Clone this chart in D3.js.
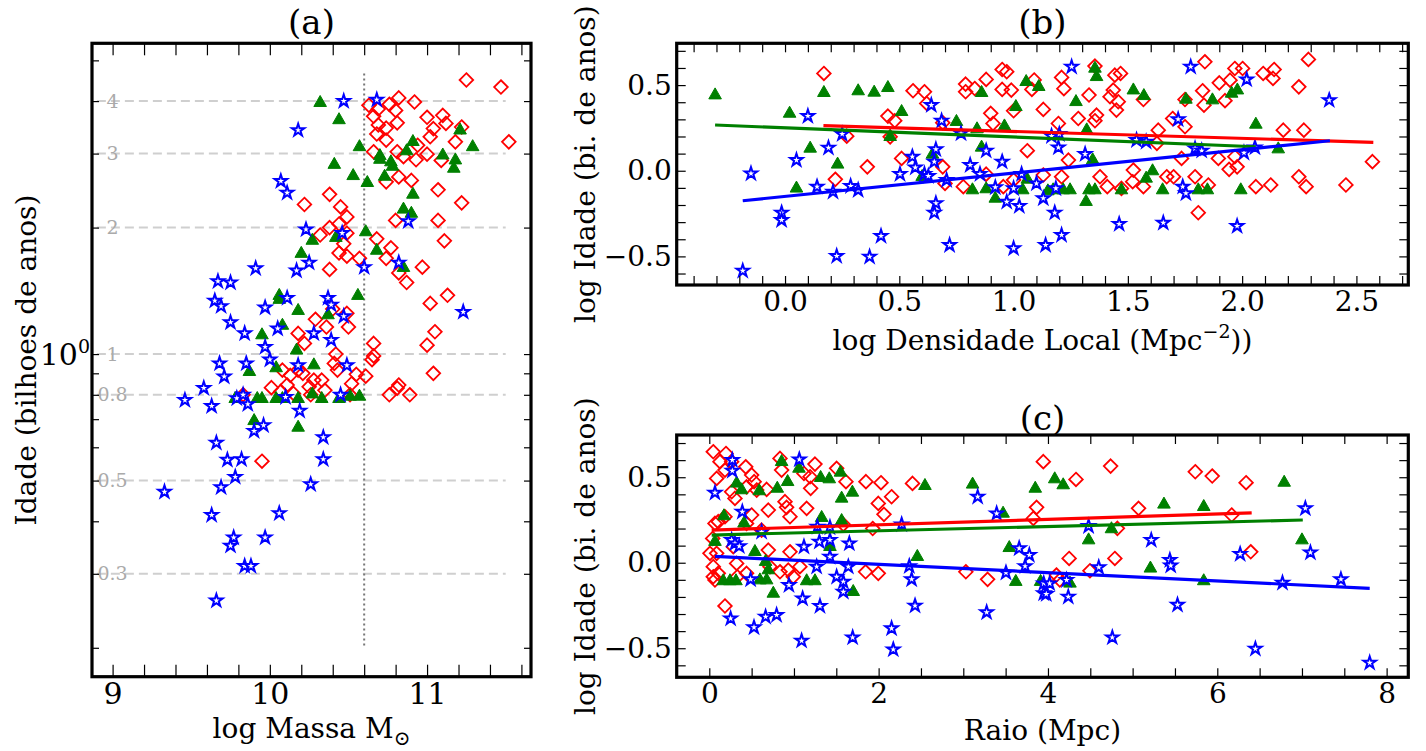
<!DOCTYPE html>
<html>
<head>
<meta charset="utf-8">
<script src="https://cdn.jsdelivr.net/npm/d3@7"></script>
<style>
  html, body { margin: 0; padding: 0; background: #fff; }
  svg { display: block; }
  svg text { font-family: 'DejaVu Serif', serif; }
</style>
</head>
<body>
<div id="chart"></div>
<script>
const W = 1426, H = 751;
const FONT = "'DejaVu Serif', serif";

const RED = '#ff0000', GREEN = '#008000', BLUE = '#0000ff';

// ---- panel (a): log mass vs age (Gyr)
const aRed = [
  [11.25,4.49],[11.47,4.32],[11.52,3.20],[10.63,3.91],[10.66,3.68],[10.69,3.83],[10.76,3.93],
  [10.82,4.07],[10.80,3.80],[10.92,3.98],[10.81,3.55],[10.69,3.51],[10.74,3.45],[10.68,3.34],
  [10.74,3.23],[11.00,3.66],[11.10,3.70],[11.12,3.54],[11.04,3.44],[11.02,3.29],[11.22,3.47],
  [11.18,3.20],[10.66,3.03],[10.81,3.03],[10.94,3.14],[11.00,2.99],[11.09,2.89],[10.93,2.90],
  [10.85,2.95],[10.74,2.57],[10.82,2.64],[10.90,2.59],[11.07,2.46],[11.22,2.29],[10.38,2.40],
  [10.22,2.27],[10.45,2.24],[10.49,2.12],[10.44,2.04],[10.38,2.00],[10.49,1.94],[10.32,1.92],
  [10.47,1.83],[10.44,1.74],[10.49,1.71],[10.38,1.59],[10.57,1.69],[10.68,1.88],[10.77,1.79],
  [10.74,1.69],[10.80,2.08],[11.07,2.08],[11.11,1.86],[10.82,1.56],[10.87,1.48],[10.97,1.61],
  [11.02,1.32],[11.13,1.38],[11.05,1.13],[11.00,1.05],[10.66,1.06],[10.66,0.99],[10.18,1.12],
  [10.22,1.06],[10.29,1.21],[10.36,1.16],[10.49,1.25],[10.50,1.16],[10.40,1.28],[10.42,1.00],
  [11.04,0.90],[10.65,0.97],[10.61,0.886],[10.55,0.895],[10.52,0.85],[10.43,0.916],[10.41,0.95],
  [10.33,0.867],[10.35,0.82],[10.21,0.90],[10.18,0.916],[10.13,0.89],[10.08,0.916],[10.11,0.844],
  [10.01,0.832],[10.07,0.815],[10.15,0.806],[10.25,0.836],[10.26,0.80],[10.28,0.867],[10.76,0.80],
  [10.82,0.844],[10.81,0.83],[10.89,0.80],[10.51,0.80],[9.83,0.80],[9.95,0.556]
];
const aGreen = [
  [10.32,4.00],[10.44,3.64],[10.57,3.14],[10.41,2.85],[10.53,2.68],[10.62,2.58],[10.70,2.99],
  [10.70,2.93],[10.77,2.89],[10.78,2.82],[10.73,2.67],[10.87,3.07],[10.91,3.23],[11.10,3.00],
  [11.18,2.92],[11.17,2.79],[11.21,3.44],[11.29,3.14],[10.91,2.42],[10.85,2.23],[10.90,2.18],
  [10.61,1.97],[10.27,1.88],[10.42,1.91],[10.20,1.75],[10.68,1.78],[10.85,1.62],[10.06,1.39],
  [10.06,1.36],[10.18,1.28],[10.37,1.25],[10.56,1.39],[10.08,1.18],[9.95,1.12],[10.17,1.03],
  [9.87,0.916],[10.04,0.935],[10.28,0.95],[9.78,0.79],[9.92,0.79],[9.95,0.79],[10.04,0.79],
  [10.08,0.79],[10.18,0.79],[10.27,0.81],[10.33,0.79],[10.44,0.79],[10.51,0.80],[10.57,0.80],
  [9.90,0.70],[10.18,0.675]
];
const aBlue = [
  [10.47,4.00],[10.68,4.03],[10.18,3.41],[10.07,2.58],[10.11,2.42],[10.23,1.98],[10.46,1.94],
  [10.88,2.07],[10.25,1.65],[10.17,1.58],[10.60,1.61],[10.82,1.65],[9.91,1.60],[9.67,1.49],
  [9.75,1.48],[9.65,1.34],[9.69,1.30],[10.11,1.36],[10.37,1.36],[10.39,1.31],[10.47,1.23],
  [9.97,1.29],[9.75,1.19],[9.84,1.12],[10.05,1.15],[10.28,1.12],[10.39,1.08],[11.23,1.26],
  [9.97,1.04],[10.00,0.97],[9.68,0.95],[9.85,0.95],[10.18,0.94],[10.49,0.94],[9.71,0.884],
  [9.58,0.83],[9.46,0.777],[9.63,0.752],[9.79,0.785],[9.83,0.80],[9.86,0.76],[10.10,0.79],
  [10.45,0.80],[10.19,0.733],[9.96,0.677],[9.90,0.656],[10.34,0.634],[9.66,0.615],[9.73,0.56],
  [9.82,0.562],[10.34,0.562],[9.78,0.51],[9.69,0.482],[10.26,0.49],[9.33,0.47],[9.63,0.414],
  [10.06,0.418],[9.77,0.366],[9.75,0.35],[9.97,0.366],[9.84,0.313],[9.88,0.313],[9.66,0.259]
];
const aGridVals = [4, 3, 2, 1, 0.8, 0.5, 0.3];
const aGridLabels = ['4', '3', '2', '1', '0.8', '0.5', '0.3'];
const aCut = 10.6;

// ---- panel (b): log local density vs log age
const bRed = [
  [0.17,0.568],[0.56,0.467],[0.61,0.461],[0.62,0.393],[0.45,0.319],[0.48,0.292],[0.27,0.202],
  [0.46,0.198],[0.51,0.072],[0.36,0.023],[0.22,-0.05],[0.69,0.28],[0.69,0.023],[0.70,-0.074],
  [0.78,-0.093],[0.79,0.506],[0.79,0.461],[0.83,0.48],[0.88,0.533],[0.90,0.335],[0.91,0.276],
  [0.95,0.591],[0.97,0.578],[0.95,0.475],[0.99,0.471],[1.00,0.35],[1.06,0.117],[1.08,0.475],
  [1.09,0.53],[1.13,0.358],[0.955,-0.093],[1.00,-0.054],[1.13,-0.025],[0.88,-0.02],
  [1.196,0.276],[1.21,0.545],[1.22,0.479],[1.24,0.062],[1.21,-0.035],[1.283,0.305],[1.33,0.442],
  [1.356,0.292],[1.363,0.325],[1.356,0.611],[1.378,-0.035],[1.41,-0.093],[1.422,0.432],
  [1.443,0.558],[1.468,0.568],[1.436,0.471],[1.45,0.354],[1.458,0.403],[1.472,-0.103],
  [1.524,0.004],[1.521,-0.064],[1.568,0.416],[1.568,-0.093],[1.633,0.237],[1.627,0.16],
  [1.67,-0.035],[1.696,0.305],[1.70,-0.035],[1.735,0.072],[1.75,0.257],[1.75,0.416],
  [1.794,-0.035],[1.808,-0.245],[1.827,0.467],[1.833,0.383],[1.837,0.636],[1.852,-0.083],
  [1.896,0.072],[1.90,0.513],[1.925,0.409],[1.943,0.008],[1.947,0.529],[1.968,0.597],
  [1.978,0.023],[1.968,0.082],[2.002,0.597],[2.06,-0.093],[2.092,0.568],[2.125,-0.083],
  [2.14,0.591],[2.135,0.539],[2.18,0.237],[2.248,0.49],[2.248,-0.035],[2.27,0.237],
  [2.28,-0.093],[2.29,0.65],[2.454,-0.083],[2.57,0.053]
];
const bGreen = [
  [-0.306,0.451],[0.17,0.465],[0.32,0.475],[0.39,0.467],[0.45,0.494],[0.02,0.344],[0.51,0.354],
  [0.11,0.14],[0.23,0.047],[0.05,-0.093],[0.46,0.208],[0.75,0.296],[0.84,0.253],[0.86,0.146],
  [0.86,0.465],[0.96,0.27],[1.01,0.383],[1.055,0.529],[1.11,0.50],[0.645,0.105],[0.60,-0.025],
  [0.82,-0.103],[0.88,-0.097],[0.92,-0.152],[1.06,-0.041],[1.04,-0.103],[1.15,-0.109],
  [1.356,0.607],[1.363,0.558],[1.273,0.412],[1.32,0.247],[1.346,0.072],[1.317,-0.171],
  [1.33,-0.103],[1.356,-0.103],[1.524,0.48],[1.57,0.447],[1.472,-0.103],[1.58,-0.035],
  [1.608,0.008],[1.652,-0.103],[1.754,0.426],[1.808,-0.103],[1.848,-0.103],[1.87,0.422],
  [1.954,0.461],[1.979,0.48],[1.994,-0.103],[2.06,0.28],[2.158,0.136],[1.173,-0.103],
  [1.217,-0.103],[1.247,-0.103]
];
const bBlue = [
  [-0.185,-0.584],[-0.149,-0.016],[-0.015,-0.245],[-0.015,-0.288],[0.05,0.062],[0.10,0.319],
  [0.14,-0.093],[0.19,0.134],[0.21,-0.123],[0.226,-0.498],[0.25,0.214],[0.287,-0.089],
  [0.32,-0.113],[0.37,-0.502],[0.42,-0.381],[0.503,-0.019],[0.557,0.082],[0.57,0.019],
  [0.61,-0.019],[0.627,-0.031],[0.64,0.383],[0.653,0.053],[0.66,0.125],[0.66,-0.19],
  [0.653,-0.245],[0.685,0.292],[0.707,-0.054],[0.72,-0.434],[0.77,0.218],[0.81,0.033],
  [0.853,-0.019],[0.88,0.117],[0.92,-0.097],[0.95,0.053],[0.97,-0.181],[1.00,-0.103],
  [1.00,-0.453],[1.025,-0.206],[1.035,-0.019],[1.10,-0.074],[1.13,-0.161],[1.14,-0.434],
  [1.254,0.607],[1.775,0.607],[2.02,0.533],[2.381,0.412],[1.72,0.30],[1.196,0.136],
  [1.313,0.097],[1.538,0.179],[1.58,0.169],[1.794,0.13],[1.823,0.117],[2.008,0.105],
  [2.056,0.136],[1.185,-0.103],[1.18,-0.245],[1.21,-0.375],[1.462,-0.311],[1.655,-0.304],
  [1.74,-0.093],[1.754,-0.132],[1.978,-0.323],[1.166,0.202],[1.20,0.214]
];
const bFitRed = [[0.168,0.263],[2.574,0.166]];
const bFitGreen = [[-0.306,0.267],[2.06,0.14]];
const bFitBlue = [[-0.185,-0.175],[2.384,0.175]];

// ---- panel (c): radius vs log age
const cRed = [
  [0.047,0.649],[0.197,0.639],[0.264,0.591],[0.126,0.591],[0.185,0.542],[0.087,0.493],
  [0.43,0.561],[0.50,0.513],[0.53,0.474],[0.44,0.444],[0.56,0.425],[0.264,0.415],[0.303,0.376],
  [0.677,0.429],[0.854,0.542],[0.835,0.61],[1.197,0.435],[1.118,0.522],[1.248,0.577],
  [1.19,0.503],[0.894,0.357],[0.913,0.324],[0.697,0.308],[0.50,0.279],[0.953,0.269],
  [1.15,0.318],[0.185,0.269],[0.067,0.23],[0.106,0.24],[0.44,0.23],[0.618,0.191],[1.583,0.224],
  [1.504,0.552],[1.614,0.474],[1.85,0.474],[2.028,0.468],[2.153,0.386],[1.996,0.347],
  [2.063,0.283],[1.93,0.20],[2.40,0.464],[0.04,0.142],[0.087,0.055],[0.008,0.055],[0.283,0.094],
  [0.323,-0.004],[0.047,-0.023],[0.106,-0.062],[0.047,-0.082],[0.067,-0.101],[0.33,-0.082],
  [0.44,-0.062],[0.697,0.074],[0.717,-0.023],[0.953,0.064],[0.933,-0.043],[0.992,-0.082],
  [1.07,-0.023],[0.835,-0.053],[1.846,-0.053],[1.996,-0.062],[0.185,-0.253],[3.03,-0.053],
  [3.287,-0.097],[3.945,0.591],[3.866,0.324],[3.827,0.259],[4.331,0.487],[4.74,0.565],
  [4.82,0.201],[4.79,0.025],[4.25,0.025],[4.496,-0.047],[4.10,-0.072],[4.14,-0.101],
  [5.07,0.318],[5.74,0.532],[5.94,0.507],[6.34,0.468],[6.17,0.279],[6.395,0.064]
];
const cGreen = [
  [0.854,0.60],[1.059,0.561],[0.925,0.483],[0.323,0.474],[0.382,0.435],[0.59,0.429],
  [0.803,0.444],[1.315,0.507],[1.417,0.499],[1.55,0.538],[1.69,0.421],[1.563,0.386],
  [1.327,0.273],[1.563,0.255],[0.173,0.283],[0.41,0.24],[0.067,0.133],[0.539,0.074],
  [0.665,0.016],[0.697,-0.033],[0.165,-0.097],[0.244,-0.097],[0.315,-0.097],[0.598,-0.092],
  [0.677,-0.092],[0.756,-0.17],[1.15,-0.097],[1.248,-0.097],[1.425,0.103],[1.70,-0.16],
  [2.547,0.46],[3.11,0.468],[3.47,0.298],[3.543,0.097],[3.62,-0.101],[2.457,0.045],
  [3.85,0.444],[3.913,-0.101],[4.08,0.499],[4.18,0.464],[4.26,-0.111],[4.48,0.142],
  [4.75,0.207],[5.21,-0.023],[5.37,0.351],[5.84,0.337],[5.84,-0.097],[6.79,0.479],[7.00,0.142]
];
const cBlue = [
  [0.272,0.60],[0.272,0.538],[1.063,0.604],[0.067,0.409],[0.39,0.298],[0.264,0.133],
  [0.303,0.113],[0.354,0.097],[0.618,0.181],[1.118,0.094],[1.30,0.123],[1.425,0.133],
  [1.654,0.113],[1.425,0.035],[1.268,-0.023],[1.276,0.21],[1.425,0.207],[1.642,-0.023],
  [1.504,-0.082],[1.583,-0.111],[1.583,-0.17],[0.941,-0.131],[0.488,-0.097],[1.102,-0.209],
  [1.307,-0.253],[0.252,-0.326],[0.528,-0.378],[0.665,-0.316],[0.795,-0.306],[1.09,-0.456],
  [1.693,-0.437],[2.153,-0.384],[2.173,-0.507],[2.272,0.224],[2.362,-0.02],[2.39,-0.097],
  [2.43,-0.251],[3.17,0.386],[3.276,-0.29],[3.394,0.288],[3.66,0.084],[3.78,0.045],
  [3.73,-0.02],[3.504,-0.058],[3.95,-0.121],[3.95,-0.179],[4.02,-0.121],[3.98,-0.183],
  [4.22,-0.101],[4.24,-0.199],[4.48,0.214],[4.60,-0.027],[4.76,-0.437],[5.22,0.133],
  [5.44,0.016],[5.45,-0.017],[5.53,-0.246],[6.27,0.051],[6.45,-0.503],[6.77,-0.117],
  [7.04,0.318],[7.10,0.06],[7.46,-0.097],[7.80,-0.585]
];
const cFitRed = [[0.028,0.191],[6.406,0.291]];
const cFitGreen = [[0.028,0.162],[7.01,0.250]];
const cFitBlue = [[0.067,0.037],[7.80,-0.150]];

// ---- markers
const diamondPath = 'M0,-6.8L6.8,0L0,6.8L-6.8,0Z';
const trianglePath = 'M0,-5.6L6.3,5.4L-6.3,5.4Z';
const starPath = d3.symbol().type(d3.symbolStar).size(48)();

const svg = d3.select('#chart').append('svg')
  .attr('width', W)
  .attr('height', H)
  .attr('font-family', FONT)
  .attr('viewBox', `0 0 ${W} ${H}`);

const range = (a, b, step) => d3.range(Math.round((b - a) / step) + 1).map(i => +(a + i * step).toFixed(6));

function drawPanel(p) {
  const g = svg.append('g');
  const x = d3.scaleLinear().domain(p.xDomain).range([p.left, p.right]);
  const y = (p.log ? d3.scaleLog() : d3.scaleLinear()).domain(p.yDomain).range([p.bottom, p.top]);

  if (p.extra) p.extra(g, x, y);

  // points
  const dot = (data, path, fill, stroke, sw) =>
    g.append('g').selectAll('path')
      .data(data)
      .join('path')
        .attr('d', path)
        .attr('transform', d => `translate(${x(d[0])},${y(d[1])})`)
        .attr('fill', fill)
        .attr('stroke', stroke)
        .attr('stroke-width', sw);

  dot(p.red, diamondPath, 'none', RED, 1.8);
  dot(p.green, trianglePath, GREEN, GREEN, 1);
  dot(p.blue, starPath, '#fff', BLUE, 2);

  // fit lines
  (p.fits || []).forEach(f => {
    g.append('path')
      .datum(f.data)
      .attr('d', d3.line().x(d => x(d[0])).y(d => y(d[1])))
      .attr('fill', 'none')
      .attr('stroke', f.color)
      .attr('stroke-width', 3.2);
  });

  // ticks, all pointing inward
  const tickStyle = sel => {
    sel.select('.domain').remove();
    sel.attr('font-family', FONT);
    sel.selectAll('line').attr('stroke', '#000').attr('stroke-width', 1.2);
    sel.selectAll('text')
      .attr('font-size', p.tickFont)
      .attr('fill', '#000');
  };

  g.append('g').attr('transform', `translate(0,${p.bottom})`)
    .call(d3.axisBottom(x).tickValues(p.xTicks).tickSize(-p.xTickLen).tickPadding(6).tickFormat(d => p.xLabels.includes(d) ? p.xFmt(d) : ''))
    .call(tickStyle);
  g.append('g').attr('transform', `translate(0,${p.top})`)
    .call(d3.axisTop(x).tickValues(p.xTicks).tickSize(-p.xTickLen).tickFormat(''))
    .call(tickStyle);
  g.append('g').attr('transform', `translate(${p.left},0)`)
    .call(d3.axisLeft(y).tickValues(p.yTicks).tickSize(-p.yTickLen).tickPadding(5).tickFormat(d => p.yLabels.includes(d) ? p.yFmt(d) : ''))
    .call(tickStyle);
  g.append('g').attr('transform', `translate(${p.right},0)`)
    .call(d3.axisRight(y).tickValues(p.yTicks).tickSize(-p.yTickLen).tickFormat(''))
    .call(tickStyle);

  // frame
  g.append('rect')
    .attr('x', p.left).attr('y', p.top)
    .attr('width', p.right - p.left).attr('height', p.bottom - p.top)
    .attr('fill', 'none').attr('stroke', '#000').attr('stroke-width', 3.2);

  // title
  g.append('text')
    .attr('x', (p.left + p.right) / 2).attr('y', p.titleY)
    .attr('text-anchor', 'middle').attr('font-size', 34)
    .text(p.title);

  // x label
  const xl = g.append('text')
    .attr('x', (p.left + p.right) / 2).attr('y', p.xLabelY)
    .attr('text-anchor', 'middle').attr('font-size', p.labelFont);
  p.xLabel(xl);

  // y label
  g.append('text')
    .attr('transform', `translate(${p.yLabelX},${(p.top + p.bottom) / 2}) rotate(-90)`)
    .attr('text-anchor', 'middle').attr('dy', '0.35em').attr('font-size', p.labelFont)
    .text(p.yLabel);

  return {x, y, g};
}

// panel (a)
drawPanel({
  left: 92, right: 531, top: 43.3, bottom: 676.7,
  xDomain: [8.869, 11.661], yDomain: [0.1707, 5.49], log: true,
  red: aRed, green: aGreen, blue: aBlue,
  tickFont: 30, labelFont: 28,
  xTicks: range(9, 11.6, 0.2), xLabels: [9, 10, 11], xFmt: d3.format('d'), xTickLen: 12,
  yTicks: [0.2, 0.3, 0.4, 0.5, 0.6, 0.7, 0.8, 0.9, 1, 2, 3, 4, 5], yLabels: [], yFmt: () => '', yTickLen: 7,
  title: '(a)', titleY: 34,
  xLabelY: 738,
  xLabel: t => {
    t.append('tspan').text('log Massa M');
    t.append('tspan').attr('font-size', 20).attr('dy', 7).text('\u2299');
  },
  yLabelX: 26, yLabel: 'Idade (bilhoes de anos)',
  extra: (g, x, y) => {
    // gray reference lines with labels
    g.append('g').selectAll('line')
      .data(aGridVals)
      .join('line')
        .attr('x1', x(8.9)).attr('x2', x(11.5))
        .attr('y1', d => y(d)).attr('y2', d => y(d))
        .attr('stroke', '#cfcfcf').attr('stroke-width', 2)
        .attr('stroke-dasharray', '9,5');
    g.append('g').selectAll('text')
      .data(aGridVals)
      .join('text')
        .attr('x', x(9)).attr('y', d => y(d))
        .attr('dy', '0.35em').attr('text-anchor', 'middle')
        .attr('font-size', 19).attr('fill', '#aaaaaa')
        .text((d, i) => aGridLabels[i]);
    // mass cut
    g.append('line')
      .attr('x1', x(aCut)).attr('x2', x(aCut))
      .attr('y1', y(4.65)).attr('y2', y(0.2))
      .attr('stroke', '#777').attr('stroke-width', 2)
      .attr('stroke-dasharray', '2,3');
    // 10^0 tick label
    const t = g.append('text')
      .attr('x', 90).attr('y', y(1)).attr('dy', '0.35em')
      .attr('text-anchor', 'end').attr('font-size', 30);
    t.append('tspan').text('10');
    t.append('tspan').attr('font-size', 19).attr('dy', -12).text('0');
  }
});

// panel (b)
drawPanel({
  left: 676.7, right: 1408.3, top: 43.3, bottom: 285,
  xDomain: [-0.474, 2.727], yDomain: [-0.667, 0.744],
  red: bRed, green: bGreen, blue: bBlue,
  tickFont: 28, labelFont: 28,
  fits: [{data: bFitGreen, color: GREEN}, {data: bFitRed, color: RED}, {data: bFitBlue, color: BLUE}],
  xTicks: range(-0.4, 2.7, 0.1), xLabels: [0, 0.5, 1, 1.5, 2, 2.5], xFmt: d3.format('.1f'), xTickLen: 9,
  yTicks: range(-0.6, 0.7, 0.1), yLabels: [-0.5, 0, 0.5], yFmt: d3.format('.1f'), yTickLen: 9,
  title: '(b)', titleY: 34,
  xLabelY: 350,
  xLabel: t => {
    t.append('tspan').text('log Densidade Local (Mpc');
    t.append('tspan').attr('font-size', 19).attr('dy', -12).text('\u22122');
    t.append('tspan').attr('dy', 12).text('))');
  },
  yLabelX: 585, yLabel: 'log Idade (bi. de anos)'
});

// panel (c)
drawPanel({
  left: 676.7, right: 1408.3, top: 435, bottom: 677.3,
  xDomain: [-0.385, 8.256], yDomain: [-0.670, 0.747],
  red: cRed, green: cGreen, blue: cBlue,
  tickFont: 28, labelFont: 28,
  fits: [{data: cFitGreen, color: GREEN}, {data: cFitRed, color: RED}, {data: cFitBlue, color: BLUE}],
  xTicks: range(0, 8, 0.5), xLabels: [0, 2, 4, 6, 8], xFmt: d3.format('d'), xTickLen: 9,
  yTicks: range(-0.6, 0.7, 0.1), yLabels: [-0.5, 0, 0.5], yFmt: d3.format('.1f'), yTickLen: 9,
  title: '(c)', titleY: 430,
  xLabelY: 740,
  xLabel: t => t.text('Raio (Mpc)'),
  yLabelX: 585, yLabel: 'log Idade (bi. de anos)'
});
</script>
</body>
</html>
